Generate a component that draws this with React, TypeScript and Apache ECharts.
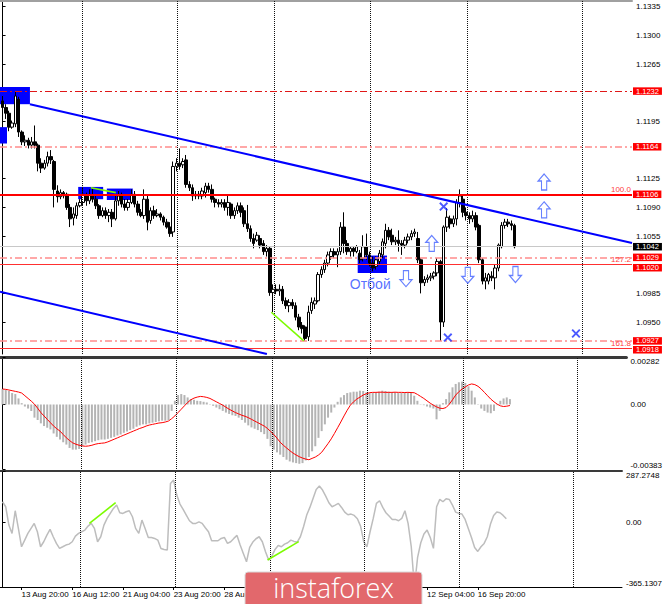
import React, { useEffect, useRef } from "react";
import * as echarts from "echarts";

// EURUSD H4 candles: [open, close, low, high]
const ohlc: number[][] = [
  [1.1220, 1.1212, 1.1205, 1.1226], [1.1212, 1.1205, 1.1198, 1.1216], [1.1205, 1.1188, 1.1183, 1.1208], [1.1188, 1.1193, 1.1186, 1.1196],
  [1.1192, 1.1226, 1.1188, 1.1232], [1.1222, 1.1182, 1.1176, 1.1225], [1.1182, 1.1170, 1.1166, 1.1184], [1.1170, 1.1172, 1.1165, 1.1178],
  [1.1172, 1.1166, 1.1162, 1.1175], [1.1166, 1.1170, 1.1162, 1.1176], [1.1170, 1.1166, 1.1162, 1.1190], [1.1166, 1.1144, 1.1134, 1.1168],
  [1.1144, 1.1138, 1.1132, 1.1150], [1.1138, 1.1144, 1.1136, 1.1148], [1.1144, 1.1152, 1.1140, 1.1158], [1.1152, 1.1148, 1.1143, 1.1160],
  [1.1146, 1.1112, 1.1090, 1.1148], [1.1110, 1.1103, 1.1096, 1.1117], [1.1103, 1.1108, 1.1100, 1.1112], [1.1108, 1.1104, 1.1101, 1.1110],
  [1.1106, 1.1090, 1.1087, 1.1108], [1.1090, 1.1076, 1.1066, 1.1094], [1.1077, 1.1082, 1.1068, 1.1090], [1.1080, 1.1092, 1.1076, 1.1096],
  [1.1092, 1.1096, 1.1090, 1.1100], [1.1096, 1.1106, 1.1092, 1.1115], [1.1104, 1.1098, 1.1092, 1.1108], [1.1098, 1.1105, 1.1094, 1.1112],
  [1.1105, 1.1100, 1.1096, 1.1113], [1.1100, 1.1092, 1.1088, 1.1104], [1.1092, 1.1080, 1.1076, 1.1094], [1.1080, 1.1086, 1.1078, 1.1090],
  [1.1086, 1.1080, 1.1076, 1.1090], [1.1080, 1.1084, 1.1072, 1.1088], [1.1084, 1.1076, 1.1066, 1.1088], [1.1076, 1.1098, 1.1074, 1.1104],
  [1.1098, 1.1104, 1.1092, 1.1110], [1.1104, 1.1094, 1.1090, 1.1108], [1.1094, 1.1090, 1.1086, 1.1100], [1.1090, 1.1096, 1.1086, 1.1100],
  [1.1096, 1.1106, 1.1094, 1.1112], [1.1106, 1.1094, 1.1090, 1.1110], [1.1094, 1.1084, 1.1080, 1.1098], [1.1084, 1.1080, 1.1078, 1.1088],
  [1.1080, 1.1100, 1.1076, 1.1112], [1.1100, 1.1072, 1.1062, 1.1104], [1.1074, 1.1086, 1.1070, 1.1090], [1.1086, 1.1080, 1.1076, 1.1092],
  [1.1080, 1.1082, 1.1078, 1.1088], [1.1082, 1.1078, 1.1074, 1.1084], [1.1078, 1.1072, 1.1068, 1.1080], [1.1072, 1.1066, 1.1064, 1.1076],
  [1.1066, 1.1058, 1.1054, 1.1072], [1.1060, 1.1140, 1.1054, 1.1146], [1.1140, 1.1144, 1.1134, 1.1150], [1.1144, 1.1140, 1.1136, 1.1162],
  [1.1142, 1.1146, 1.1138, 1.1150], [1.1148, 1.1118, 1.1114, 1.1154], [1.1118, 1.1114, 1.1110, 1.1122], [1.1114, 1.1104, 1.1098, 1.1118],
  [1.1104, 1.1106, 1.1100, 1.1110], [1.1106, 1.1104, 1.1100, 1.1110], [1.1104, 1.1110, 1.1100, 1.1114], [1.1108, 1.1116, 1.1102, 1.1120],
  [1.1116, 1.1112, 1.1108, 1.1120], [1.1112, 1.1100, 1.1096, 1.1118], [1.1100, 1.1096, 1.1090, 1.1102], [1.1096, 1.1094, 1.1090, 1.1100],
  [1.1094, 1.1096, 1.1090, 1.1100], [1.1096, 1.1090, 1.1086, 1.1100], [1.1090, 1.1096, 1.1080, 1.1104], [1.1094, 1.1080, 1.1076, 1.1096],
  [1.1080, 1.1086, 1.1076, 1.1090], [1.1086, 1.1092, 1.1082, 1.1096], [1.1092, 1.1084, 1.1078, 1.1096], [1.1086, 1.1070, 1.1066, 1.1090],
  [1.1070, 1.1064, 1.1060, 1.1093], [1.1064, 1.1052, 1.1048, 1.1068], [1.1052, 1.1046, 1.1040, 1.1058], [1.1050, 1.1056, 1.1048, 1.1060],
  [1.1052, 1.1044, 1.1040, 1.1056], [1.1046, 1.1036, 1.1032, 1.1050], [1.1036, 1.1040, 1.1030, 1.1044], [1.1040, 1.0986, 1.0982, 1.1042],
  [1.0986, 1.0990, 1.0962, 1.0996], [1.0990, 1.0988, 1.0984, 1.0996], [1.0988, 1.0990, 1.0982, 1.0996], [1.0990, 1.0976, 1.0972, 1.0994],
  [1.0976, 1.0970, 1.0966, 1.0980], [1.0970, 1.0974, 1.0962, 1.0978], [1.0974, 1.0970, 1.0966, 1.0978], [1.0970, 1.0956, 1.0952, 1.0974],
  [1.0956, 1.0944, 1.0940, 1.0960], [1.0946, 1.0942, 1.0936, 1.0950], [1.0944, 1.0930, 1.0927, 1.0946], [1.0932, 1.0962, 1.0927, 1.0970],
  [1.0964, 1.0974, 1.0960, 1.0980], [1.0972, 1.0976, 1.0966, 1.0980], [1.0976, 1.1008, 1.0974, 1.1011], [1.1008, 1.1014, 1.1004, 1.1018],
  [1.1014, 1.1022, 1.1010, 1.1026], [1.1022, 1.1032, 1.1018, 1.1036], [1.1030, 1.1036, 1.1026, 1.1040], [1.1036, 1.1032, 1.1028, 1.1040],
  [1.1032, 1.1036, 1.1017, 1.1040], [1.1036, 1.1066, 1.1032, 1.1072], [1.1066, 1.1046, 1.1034, 1.1084], [1.1046, 1.1036, 1.1032, 1.1050],
  [1.1036, 1.1040, 1.1030, 1.1042], [1.1040, 1.1036, 1.1030, 1.1042], [1.1036, 1.1042, 1.1034, 1.1044], [1.1034, 1.1026, 1.1022, 1.1038],
  [1.1028, 1.1042, 1.1024, 1.1056], [1.1042, 1.1032, 1.1026, 1.1058], [1.1032, 1.1022, 1.1018, 1.1036], [1.1022, 1.1016, 1.1012, 1.1030],
  [1.1018, 1.1026, 1.1014, 1.1030], [1.1024, 1.1034, 1.1020, 1.1038], [1.1032, 1.1048, 1.1028, 1.1052], [1.1046, 1.1062, 1.1040, 1.1070],
  [1.1062, 1.1054, 1.1050, 1.1066], [1.1056, 1.1048, 1.1044, 1.1064], [1.1048, 1.1050, 1.1044, 1.1054], [1.1050, 1.1046, 1.1036, 1.1062],
  [1.1046, 1.1044, 1.1032, 1.1050], [1.1044, 1.1050, 1.1040, 1.1054], [1.1050, 1.1054, 1.1046, 1.1058], [1.1054, 1.1058, 1.1050, 1.1062],
  [1.1058, 1.1060, 1.1054, 1.1064], [1.1052, 1.1026, 1.1022, 1.1060], [1.1026, 1.0998, 1.0985, 1.1028], [1.0998, 1.1002, 1.0994, 1.1006],
  [1.1002, 1.1004, 1.0998, 1.1008], [1.1004, 1.1006, 1.1000, 1.1010], [1.1006, 1.1010, 1.1002, 1.1012], [1.1010, 1.1024, 1.1006, 1.1028],
  [1.1024, 1.0950, 1.0927, 1.1026], [1.0950, 1.1066, 1.0944, 1.1068], [1.1066, 1.1078, 1.1060, 1.1089], [1.1076, 1.1070, 1.1064, 1.1080],
  [1.1070, 1.1076, 1.1066, 1.1080], [1.1076, 1.1096, 1.1068, 1.1100], [1.1096, 1.1104, 1.1090, 1.1112], [1.1100, 1.1084, 1.1078, 1.1104],
  [1.1084, 1.1080, 1.1074, 1.1090], [1.1080, 1.1076, 1.1070, 1.1084], [1.1076, 1.1080, 1.1072, 1.1086], [1.1080, 1.1066, 1.1062, 1.1084],
  [1.1068, 1.1026, 1.1022, 1.1070], [1.1026, 1.1000, 1.0996, 1.1028], [1.1000, 1.1004, 1.0990, 1.1010], [1.1000, 1.1008, 1.0996, 1.1010],
  [1.1006, 1.1004, 1.1000, 1.1012], [1.1004, 1.1016, 1.0990, 1.1020], [1.1016, 1.1044, 1.1012, 1.1046], [1.1042, 1.1068, 1.1040, 1.1072],
  [1.1068, 1.1072, 1.1064, 1.1076], [1.1072, 1.1070, 1.1066, 1.1076], [1.1070, 1.1068, 1.1062, 1.1074], [1.1068, 1.1042, 1.1040, 1.1070],
];

const macdHist: number[] = [
  0.00092, 0.00088, 0.00080, 0.00068, 0.00062, 0.00036, 0.00008, -0.00012, -0.00024, -0.00038,
  -0.00078, -0.00092, -0.00112, -0.00128, -0.00138, -0.00148, -0.00172, -0.00192, -0.00208, -0.00224,
  -0.00238, -0.00258, -0.00268, -0.00268, -0.00264, -0.00248, -0.00238, -0.00228, -0.00224, -0.00218,
  -0.00212, -0.00208, -0.00208, -0.00204, -0.00198, -0.00192, -0.00184, -0.00178, -0.00168, -0.00160,
  -0.00152, -0.00144, -0.00132, -0.00124, -0.00118, -0.00118, -0.00112, -0.00108, -0.00104, -0.00100,
  -0.00096, -0.00096, -0.00092, -0.00038, 0.00022, 0.00056, 0.00062, 0.00056, 0.00042, 0.00032,
  0.00028, 0.00022, 0.00020, 0.00016, 0.00012, 0.00002, -0.00008, -0.00018, -0.00028, -0.00038,
  -0.00048, -0.00056, -0.00064, -0.00068, -0.00078, -0.00092, -0.00108, -0.00124, -0.00136, -0.00144,
  -0.00152, -0.00164, -0.00176, -0.00204, -0.00248, -0.00268, -0.00284, -0.00298, -0.00312, -0.00328,
  -0.00338, -0.00344, -0.00348, -0.00352, -0.00348, -0.00332, -0.00312, -0.00278, -0.00248, -0.00198,
  -0.00158, -0.00118, -0.00078, -0.00048, -0.00018, 0.00016, 0.00042, 0.00056, 0.00068, 0.00072,
  0.00076, 0.00076, 0.00082, 0.00080, 0.00072, 0.00068, 0.00068, 0.00072, 0.00076, 0.00082,
  0.00080, 0.00076, 0.00072, 0.00072, 0.00068, 0.00068, 0.00072, 0.00072, 0.00068, 0.00052,
  0.00022, 0.00002, -0.00004, -0.00012, -0.00018, -0.00024, -0.00088, -0.00038, 0.00008, 0.00032,
  0.00072, 0.00102, 0.00122, 0.00132, 0.00136, 0.00128, 0.00108, 0.00082, 0.00042, 0.00002,
  -0.00024, -0.00038, -0.00048, -0.00052, -0.00038, -0.00004, 0.00022, 0.00036, 0.00042, 0.00032,
];

const macdSignal: number[] = [
  0.00092, 0.00090, 0.00086, 0.00082, 0.00078, 0.00074, 0.00068, 0.00052, 0.00036, 0.00020,
  0.00002, -0.00022, -0.00048, -0.00068, -0.00088, -0.00108, -0.00128, -0.00144, -0.00158, -0.00178,
  -0.00198, -0.00214, -0.00228, -0.00236, -0.00242, -0.00246, -0.00248, -0.00246, -0.00242, -0.00236,
  -0.00232, -0.00230, -0.00228, -0.00222, -0.00214, -0.00206, -0.00198, -0.00190, -0.00182, -0.00174,
  -0.00166, -0.00158, -0.00150, -0.00142, -0.00136, -0.00128, -0.00122, -0.00118, -0.00114, -0.00110,
  -0.00108, -0.00104, -0.00098, -0.00084, -0.00068, -0.00048, -0.00028, -0.00008, 0.00012, 0.00028,
  0.00038, 0.00044, 0.00048, 0.00046, 0.00042, 0.00036, 0.00026, 0.00016, 0.00006, -0.00004,
  -0.00016, -0.00028, -0.00038, -0.00048, -0.00056, -0.00064, -0.00070, -0.00078, -0.00088, -0.00098,
  -0.00108, -0.00118, -0.00128, -0.00142, -0.00160, -0.00178, -0.00200, -0.00224, -0.00242, -0.00258,
  -0.00274, -0.00288, -0.00300, -0.00310, -0.00318, -0.00324, -0.00328, -0.00320, -0.00312, -0.00300,
  -0.00284, -0.00258, -0.00232, -0.00204, -0.00172, -0.00138, -0.00104, -0.00068, -0.00034, -0.00004,
  0.00016, 0.00032, 0.00044, 0.00056, 0.00064, 0.00070, 0.00072, 0.00072, 0.00073, 0.00073,
  0.00072, 0.00072, 0.00072, 0.00073, 0.00072, 0.00072, 0.00071, 0.00072, 0.00071, 0.00070,
  0.00060, 0.00048, 0.00036, 0.00022, 0.00008, -0.00004, -0.00014, -0.00022, -0.00024, -0.00018,
  0.00002, 0.00028, 0.00056, 0.00076, 0.00092, 0.00104, 0.00116, 0.00122, 0.00118, 0.00108,
  0.00092, 0.00072, 0.00052, 0.00032, 0.00016, 0.00002, -0.00008, -0.00012, -0.00010, -0.00006,
];

const cci: number[] = [
  114.4, 86.3, -16.9, -63.8, 63.8, -35.6, -138.8, -101.3, -63.8, -35.6,
  -7.5, -54.4, -138.8, -110.6, -73.1, -41.3, -82.5, -120.0, -148.1, -138.8,
  -129.4, -123.8, -110.6, -78.8, -63.8, -54.4, -45.0, -22.5, -7.5, -35.6,
  -110.6, -82.5, -16.9, 20.6, 48.8, 76.9, 95.6, 52.5, 48.8, 58.1,
  63.8, 30.0, -35.6, -63.8, 11.3, -35.6, -86.3, -86.3, -91.9, -101.3,
  -148.1, -153.8, -157.5, 217.5, 236.3, 151.9, 101.3, 71.3, 39.4, 7.5,
  -7.5, -7.5, 1.2, -7.5, -31.9, -54.4, -105.0, -105.0, -105.0, -91.9,
  -86.3, -120.0, -110.6, -91.9, -75.0, -129.4, -176.3, -223.1, -142.5, -112.5,
  -93.8, -82.5, -110.6, -166.9, -213.8, -191.3, -153.8, -131.3, -138.8, -123.8,
  -116.3, -101.3, -108.8, -112.5, -82.5, -26.3, 39.4, 82.5, 133.1, 183.8,
  202.5, 180.0, 146.3, 108.8, 86.3, 95.6, 105.0, 82.5, 56.3, 41.3,
  45.0, 37.5, 18.8, -22.5, -110.6, -138.8, -54.4, 20.6, 105.0, 120.0,
  82.5, 52.5, 33.8, 15.0, 15.0, 7.5, 20.6, 63.8, -7.5, -138.8,
  -365.1, -198.8, -116.3, -67.5, -45.0, -86.3, -148.1, 86.3, 127.5, 114.4,
  131.3, 127.5, 95.6, 56.3, 48.8, 45.0, 15.0, -35.6, -86.3, -142.5,
  -165.0, -138.8, -120.0, -82.5, -11.3, 37.5, 56.3, 52.5, 37.5, 18.8,
];

// axes
const xRange = [-0.8, 195.5];
const timeTickIndex = [6, 22, 38, 54, 70, 134, 150];
const timeTickLabels = ["13 Aug 20:00", "16 Aug 12:00", "21 Aug 04:00", "23 Aug 20:00", "28 Aug 12:00", "12 Sep 04:00", "16 Sep 20:00"];
const priceRange = [1.0911, 1.1342];
const priceTicks = [1.095, 1.0985, 1.1055, 1.109, 1.1125, 1.1195, 1.1265, 1.13, 1.1335];
const macdRange = [-0.00383, 0.00282];
const cciRange = [-365.1307, 287.2748];
const gridTimes = [24.6, 54.4, 84.5, 114.3, 144.3, 180.2];

// levels
const dashLevelsStrong = [1.1232];
const dashLevelsLight = [1.1164, 1.1029, 1.0927];
const solidLevelsThick = [1.1106];
const solidLevelsThin = [1.102, 1.0918];
const lastPrice = 1.1042;
const fibLevels = [1.1106, 1.102, 1.0918];
const fibLabels = ["100.0", "127.2", "161.8"];

// drawn objects
const upperTrend = [[8.5, 1.1216], [195.5, 1.10465]];
const lowerTrend = [[-0.8, 1.09869], [82.1, 1.0911]];
const zones = [
  [[-0.8, 1.1237], [8.5, 1.1216]],
  [[-0.8, 1.1188], [1.37, 1.1168]],
  [[23.49, 1.1115], [31.24, 1.11]],
  [[32.38, 1.1113], [40.44, 1.1099]],
  [[110.3, 1.10312], [119.4, 1.10099]],
];
const priceDivergence = [
  [[27.42, 1.1114], [35.17, 1.1108]],
  [[83.46, 1.0962], [93.56, 1.0927]],
];
const cciDivergence = [
  [[27.42, -6.7], [35.7, 109]],
  [[83.64, -213], [93.47, -110]],
];
const crossMarks = [[137.0, 1.1091], [138.3, 1.0931], [178.1, 1.0936]];
const upArrows = [[168.2, 1.1121], [168.2, 1.1087], [133.3, 1.1046]];
const downArrows = [[125.3, 1.1003], [144.5, 1.1007], [159.3, 1.1008]];
const bounceLabel = [[114.2, 1.0997]];
const bounceText = "Отбой";

const FONT = "Liberation Sans";
const X_PATH = "path://M1.5,0 L5,3.5 L8.5,0 L10,1.5 L6.5,5 L10,8.5 L8.5,10 L5,6.5 L1.5,10 L0,8.5 L3.5,5 L0,1.5 Z";
const UP_PATH = "path://M6,0 L12,7 L8.6,7 L8.6,16 L3.4,16 L3.4,7 L0,7 Z";
const DOWN_PATH = "path://M3.4,0 L8.6,0 L8.6,9 L12,9 L6,16 L0,9 L3.4,9 Z";

function boxLabel(bg: string, text: string, dy = 0) {
  return {
    show: true,
    position: "end",
    distance: 1,
    offset: [0, dy],
    formatter: text,
    backgroundColor: bg,
    color: "#ffffff",
    fontSize: 7.5,
    fontFamily: FONT,
    lineHeight: 7.5,
    padding: [0, 3, 0, 3],
  };
}

function buildOption(): any {
  const xBase = {
    type: "value",
    min: xRange[0],
    max: xRange[1],
    splitLine: { show: false },
    axisTick: { show: false },
    axisLabel: { show: false },
  };
  const vLines = gridTimes.map((x) => ({
    xAxis: x,
    lineStyle: { type: "dotted", color: "#111", width: 1 },
    label: { show: false },
  }));
  const dashDot = [7, 3, 2, 3];

  const mainLines: any[] = [
    ...vLines,
    ...dashLevelsStrong.map((v) => ({
      yAxis: v,
      lineStyle: { type: dashDot, color: "#e01818", width: 1 },
      label: boxLabel("#ff0000", v.toFixed(4)),
    })),
    { yAxis: lastPrice, lineStyle: { type: "solid", color: "#c8c8c8", width: 1 }, label: boxLabel("#000000", lastPrice.toFixed(4)) },
    ...solidLevelsThin.map((v, i) => ({
      yAxis: v,
      lineStyle: { type: "solid", color: "#ff3030", width: 1 },
      label: boxLabel("#ff0000", v.toFixed(4), i === 0 ? 3 : 1.5),
    })),
    ...dashLevelsLight.map((v) => ({
      yAxis: v,
      lineStyle: { type: dashDot, color: "#ff8c8c", width: 1.6 },
      label: boxLabel("#ff0000", v.toFixed(4)),
    })),
    ...solidLevelsThick.map((v) => ({
      yAxis: v,
      lineStyle: { type: "solid", color: "#ff0000", width: 2 },
      label: boxLabel("#ff0000", v.toFixed(4)),
    })),
    ...fibLevels.map((v, i) => ({
      yAxis: v,
      lineStyle: { color: "rgba(255,255,255,0)", width: 0 },
      label: {
        show: true,
        position: "insideEndTop",
        distance: 1,
        formatter: fibLabels[i],
        color: "#ff4040",
        fontSize: 8,
        fontFamily: FONT,
      },
    })),
    [
      { coord: upperTrend[0], lineStyle: { color: "#0000ff", width: 2, type: "solid" }, label: { show: false } },
      { coord: upperTrend[1] },
    ],
    [
      { coord: lowerTrend[0], lineStyle: { color: "#0000ff", width: 2, type: "solid" }, label: { show: false } },
      { coord: lowerTrend[1] },
    ],
    ...priceDivergence.map((seg) => [
      { coord: seg[0], lineStyle: { color: "#7cfc00", width: 1.6, type: "solid" }, label: { show: false } },
      { coord: seg[1] },
    ]),
  ];

  return {
    animation: false,
    backgroundColor: "#ffffff",
    textStyle: { fontFamily: FONT },
    grid: [
      { left: -1, right: 33, top: 1, height: 353 },
      { left: -1, right: 33, top: 357, height: 112 },
      { left: -1, right: 33, top: 471, height: 116 },
    ],
    xAxis: [
      { ...xBase, gridIndex: 0, position: "top", axisLine: { show: true, onZero: false, lineStyle: { color: "#a0a0a0", width: 2 } } },
      { ...xBase, gridIndex: 1, position: "top", axisLine: { show: true, onZero: false, lineStyle: { color: "#3a3a3a", width: 3 } } },
      {
        ...xBase,
        gridIndex: 2,
        position: "bottom",
        axisLine: { show: true, onZero: false, lineStyle: { color: "#000000", width: 1 } },
        axisTick: { show: true, customValues: timeTickIndex, length: 3, lineStyle: { color: "#000000" } },
        axisLabel: {
          show: true,
          customValues: timeTickIndex,
          formatter: (v: number) => {
            const k = timeTickIndex.indexOf(Math.round(v));
            return k >= 0 ? timeTickLabels[k] : "";
          },
          align: "left",
          margin: 3,
          fontSize: 8,
          color: "#000000",
          fontFamily: FONT,
        },
      },
      { ...xBase, gridIndex: 2, position: "top", axisLine: { show: true, onZero: false, lineStyle: { color: "#3a3a3a", width: 2 } } },
    ],
    yAxis: [
      {
        type: "value",
        gridIndex: 0,
        position: "right",
        min: priceRange[0],
        max: priceRange[1],
        splitLine: { show: false },
        axisLine: { show: true, lineStyle: { color: "#000000" } },
        axisTick: { show: true, customValues: priceTicks, length: 3, lineStyle: { color: "#000000" } },
        axisLabel: {
          customValues: priceTicks,
          formatter: (v: number) => v.toFixed(4),
          fontSize: 8,
          margin: 4,
          color: "#000000",
          fontFamily: FONT,
          hideOverlap: false,
        },
      },
      {
        type: "value",
        gridIndex: 1,
        position: "right",
        min: macdRange[0],
        max: macdRange[1],
        splitLine: { show: false },
        axisLine: { show: true, lineStyle: { color: "#000000" } },
        axisTick: { show: true, customValues: [macdRange[0], 0, macdRange[1]], length: 3, lineStyle: { color: "#000000" } },
        axisLabel: {
          customValues: [macdRange[0], 0, macdRange[1]],
          formatter: (v: number) => (Math.abs(v) < 1e-9 ? "0.00" : v.toFixed(5)),
          fontSize: 8,
          margin: 4,
          color: "#000000",
          fontFamily: FONT,
          verticalAlignMinLabel: "bottom",
          verticalAlignMaxLabel: "top",
        },
      },
      {
        type: "value",
        gridIndex: 2,
        position: "right",
        min: cciRange[0],
        max: cciRange[1],
        splitLine: { show: false },
        axisLine: { show: true, lineStyle: { color: "#000000" } },
        axisTick: { show: true, customValues: [cciRange[0], 0, cciRange[1]], length: 3, lineStyle: { color: "#000000" } },
        axisLabel: {
          customValues: [cciRange[0], 0, cciRange[1]],
          formatter: (v: number) => (Math.abs(v) < 1e-9 ? "0.00" : v.toFixed(4)),
          fontSize: 8,
          margin: 4,
          color: "#000000",
          fontFamily: FONT,
          verticalAlignMinLabel: "bottom",
          verticalAlignMaxLabel: "top",
        },
      },
    ],
    series: [
      {
        type: "candlestick",
        xAxisIndex: 0,
        yAxisIndex: 0,
        barWidth: 3,
        data: ohlc.map((c, i) => [i, c[0], c[1], c[2], c[3]]),
        itemStyle: { color: "#ffffff", color0: "#000000", borderColor: "#000000", borderColor0: "#000000", borderWidth: 1 },
        silent: true,
        markArea: {
          silent: true,
          itemStyle: { color: "#0000ff", opacity: 1 },
          data: zones.map((z) => [{ coord: z[0] }, { coord: z[1] }]),
        },
        markLine: {
          silent: true,
          precision: 6,
          symbol: ["none", "none"],
          label: { show: false },
          data: mainLines,
        },
      },
      {
        type: "scatter",
        xAxisIndex: 0,
        yAxisIndex: 0,
        data: crossMarks,
        symbol: X_PATH,
        symbolSize: 9,
        itemStyle: { color: "#1e2fff" },
        silent: true,
        z: 6,
      },
      {
        type: "scatter",
        xAxisIndex: 0,
        yAxisIndex: 0,
        data: upArrows,
        symbol: UP_PATH,
        symbolSize: [12, 16],
        itemStyle: { color: "#ffffff", borderColor: "#4060ff", borderWidth: 1.2 },
        silent: true,
        z: 6,
      },
      {
        type: "scatter",
        xAxisIndex: 0,
        yAxisIndex: 0,
        data: downArrows,
        symbol: DOWN_PATH,
        symbolSize: [12, 16],
        itemStyle: { color: "#ffffff", borderColor: "#4060ff", borderWidth: 1.2 },
        silent: true,
        z: 6,
      },
      {
        type: "scatter",
        xAxisIndex: 0,
        yAxisIndex: 0,
        data: bounceLabel,
        symbol: "circle",
        symbolSize: 1,
        itemStyle: { color: "transparent" },
        label: { show: true, position: "inside", formatter: bounceText, color: "#2b4cff", fontSize: 14, fontFamily: FONT },
        silent: true,
        z: 6,
      },
      {
        type: "bar",
        xAxisIndex: 1,
        yAxisIndex: 1,
        barWidth: 2,
        data: macdHist.map((v, i) => [i, v]),
        itemStyle: { color: "#b4b4b4" },
        silent: true,
        markLine: { silent: true, precision: 6, symbol: ["none", "none"], label: { show: false }, data: vLines },
      },
      {
        type: "line",
        xAxisIndex: 1,
        yAxisIndex: 1,
        data: macdSignal.map((v, i) => [i, v]),
        symbol: "none",
        lineStyle: { color: "#ff0000", width: 1 },
        silent: true,
      },
      {
        type: "line",
        xAxisIndex: 2,
        yAxisIndex: 2,
        data: cci.map((v, i) => [i, v]),
        symbol: "none",
        lineStyle: { color: "#bdbdbd", width: 1.5 },
        silent: true,
        markLine: {
          silent: true,
          precision: 6,
          symbol: ["none", "none"],
          label: { show: false },
          data: [
            ...vLines,
            ...cciDivergence.map((seg) => [
              { coord: seg[0], lineStyle: { color: "#7cfc00", width: 1.6, type: "solid" }, label: { show: false } },
              { coord: seg[1] },
            ]),
          ],
        },
      },
    ],
    graphic: [
      {
        type: "group",
        x: 245,
        y: 572,
        z: 100,
        silent: true,
        children: [
          {
            type: "rect",
            z: 100,
            shape: { x: 0, y: 0, width: 177, height: 40, r: 3 },
            style: { fill: "#e2686c", stroke: "#d9d9d9", lineWidth: 1 },
          },
          {
            type: "text",
            z: 101,
            x: 88.5,
            y: 15,
            style: {
              text: "instaforex",
              fill: "#ffffff",
              fontSize: 27,
              fontFamily: "Open Sans",
              fontWeight: 300,
              align: "center",
              verticalAlign: "middle",
            },
          },
        ],
      },
    ],
  };
}

export default function App() {
  const ref = useRef<HTMLDivElement>(null);
  useEffect(() => {
    if (!ref.current) return;
    const chart = echarts.init(ref.current, null, { renderer: "svg" });
    chart.setOption(buildOption());
    return () => chart.dispose();
  }, []);
  return (
    <div
      ref={ref}
      style={{ position: "absolute", left: 0, top: 0, width: 665, height: 604, background: "#ffffff" }}
    />
  );
}
